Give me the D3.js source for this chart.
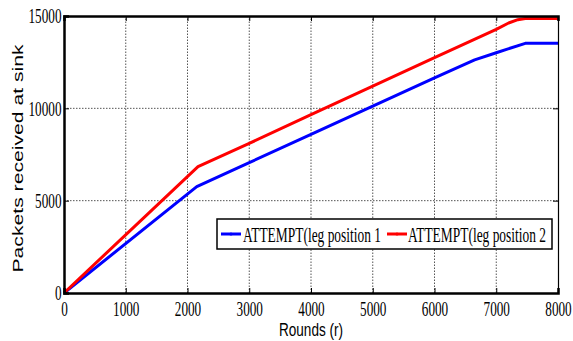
<!DOCTYPE html>
<html><head><meta charset="utf-8">
<script src="https://cdn.jsdelivr.net/npm/d3@7"></script>
<style>
html,body{margin:0;padding:0;background:#fff;}
svg{display:block;}
</style></head>
<body>
<svg id="chart" width="573" height="341"></svg>
<script>
const seriesNames = ["ATTEMPT(leg position 1", "ATTEMPT(leg position 2"];
const seriesColors = ["#0000ff", "#ff0000"];
const blueRounds = [0, 2150, 3000, 4000, 5000, 6000, 6650, 7000, 7470, 8000];
const blueValues = [0, 5760, 7060, 8590, 10120, 11650, 12620, 13010, 13520, 13520];
const redRounds = [0, 2170, 3000, 4000, 5000, 6000, 7000, 7200, 7350, 7470, 8000];
const redValues = [0, 6840, 8100, 9660, 11200, 12740, 14280, 14620, 14800, 14870, 14870];
const xTicks = [0, 1000, 2000, 3000, 4000, 5000, 6000, 7000, 8000];
const yTicks = [0, 5000, 10000, 15000];

const svg = d3.select("#chart");
const m = {left: 64, right: 15, top: 16, bottom: 48};
const W = 573, H = 341;
const x = d3.scaleLinear().domain([0, 8000]).range([m.left, W - m.right]);
const y = d3.scaleLinear().domain([0, 15000]).range([H - m.bottom, m.top]);

// grid
const grid = svg.append("g");
grid.selectAll("line.vx").data(xTicks.slice(1, -1)).enter().append("line")
  .attr("x1", d => x(d)).attr("x2", d => x(d)).attr("y1", y(0)).attr("y2", y(15000))
  .attr("stroke", "#555").attr("stroke-width", 1).attr("stroke-dasharray", "1.5,1.5");
grid.selectAll("line.hy").data(yTicks.slice(1, -1)).enter().append("line")
  .attr("y1", d => y(d)).attr("y2", d => y(d)).attr("x1", x(0)).attr("x2", x(8000))
  .attr("stroke", "#555").attr("stroke-width", 1).attr("stroke-dasharray", "1.5,1.5");

// lines
const line = d3.line().x(d => x(d[0])).y(d => y(d[1]));
const data = [
  d3.zip(blueRounds, blueValues),
  d3.zip(redRounds, redValues)
];
svg.selectAll("path.series").data(data).enter().append("path")
  .attr("d", line).attr("fill", "none")
  .attr("stroke", (d, i) => seriesColors[i]).attr("stroke-width", 3)
  .attr("stroke-linejoin", "round");

// axes
const fontSerif = "'Liberation Serif', 'Times New Roman', serif";
const fontSans = "'Liberation Sans', Arial, sans-serif";
const xAxis = svg.append("g").attr("transform", `translate(0,${y(0)})`)
  .call(d3.axisBottom(x).tickValues(xTicks).tickSize(-5).tickPadding(9).tickFormat(d3.format("d")));
const yAxis = svg.append("g").attr("transform", `translate(${x(0)},0)`)
  .call(d3.axisLeft(y).tickValues(yTicks).tickSize(-5).tickPadding(2.5).tickFormat(d3.format("d")));
const xTop = svg.append("g").attr("transform", `translate(0,${y(15000)})`)
  .call(d3.axisTop(x).tickValues(xTicks).tickSize(-5).tickFormat(""));
const yRight = svg.append("g").attr("transform", `translate(${x(8000)},0)`)
  .call(d3.axisRight(y).tickValues(yTicks).tickSize(-5).tickFormat(""));
[xAxis, yAxis].forEach(g => {
  g.selectAll("text").attr("font-family", fontSerif).attr("font-size", 20).attr("fill", "#000")
    .attr("textLength", d => 6.6 * String(d).length).attr("lengthAdjust", "spacingAndGlyphs");
});
[xAxis, yAxis, xTop, yRight].forEach(g => g.selectAll(".tick line").attr("stroke", "#000"));
xAxis.select(".domain").attr("stroke", "#000").attr("stroke-width", 2.5);
yAxis.select(".domain").attr("stroke", "#000").attr("stroke-width", 2.5);
xTop.select(".domain").attr("stroke", "#000").attr("stroke-width", 2.5);
yRight.select(".domain").attr("stroke", "#000").attr("stroke-width", 1.2);
yAxis.selectAll("text").attr("dy", "0.34em");
xAxis.selectAll("text").attr("dy", "0.7em");

// axis labels
svg.append("text").attr("x", (x(0) + x(8000)) / 2).attr("y", 335.5)
  .attr("text-anchor", "middle").attr("font-family", fontSans)
  .attr("font-size", 17.5).attr("textLength", 64).attr("lengthAdjust", "spacingAndGlyphs")
  .text("Rounds (r)");
svg.append("text").attr("transform", `translate(22.5,${(y(0) + y(15000)) / 2 + 4}) rotate(-90)`)
  .attr("text-anchor", "middle").attr("font-family", fontSans)
  .attr("font-size", 15.5).attr("textLength", 228).attr("lengthAdjust", "spacingAndGlyphs")
  .text("Packets received at sink");

// legend
const lg = svg.append("g");
lg.append("rect").attr("x", 217).attr("y", 219).attr("width", 335).attr("height", 30)
  .attr("fill", "#fff").attr("stroke", "#000").attr("stroke-width", 1.5);
const items = [{sx: 221, tx: 243}, {sx: 387, tx: 408}];
items.forEach((it, i) => {
  lg.append("line").attr("x1", it.sx).attr("x2", it.sx + 20).attr("y1", 234).attr("y2", 234)
    .attr("stroke", seriesColors[i]).attr("stroke-width", 3);
  lg.append("circle").attr("cx", it.sx + 10).attr("cy", 234).attr("r", 1.6)
    .attr("fill", seriesColors[i]);
  lg.append("text").attr("x", it.tx).attr("y", 242).attr("font-family", fontSerif)
    .attr("font-size", 20).attr("textLength", 138).attr("lengthAdjust", "spacingAndGlyphs")
    .text(seriesNames[i]);
});
</script>
</body></html>
